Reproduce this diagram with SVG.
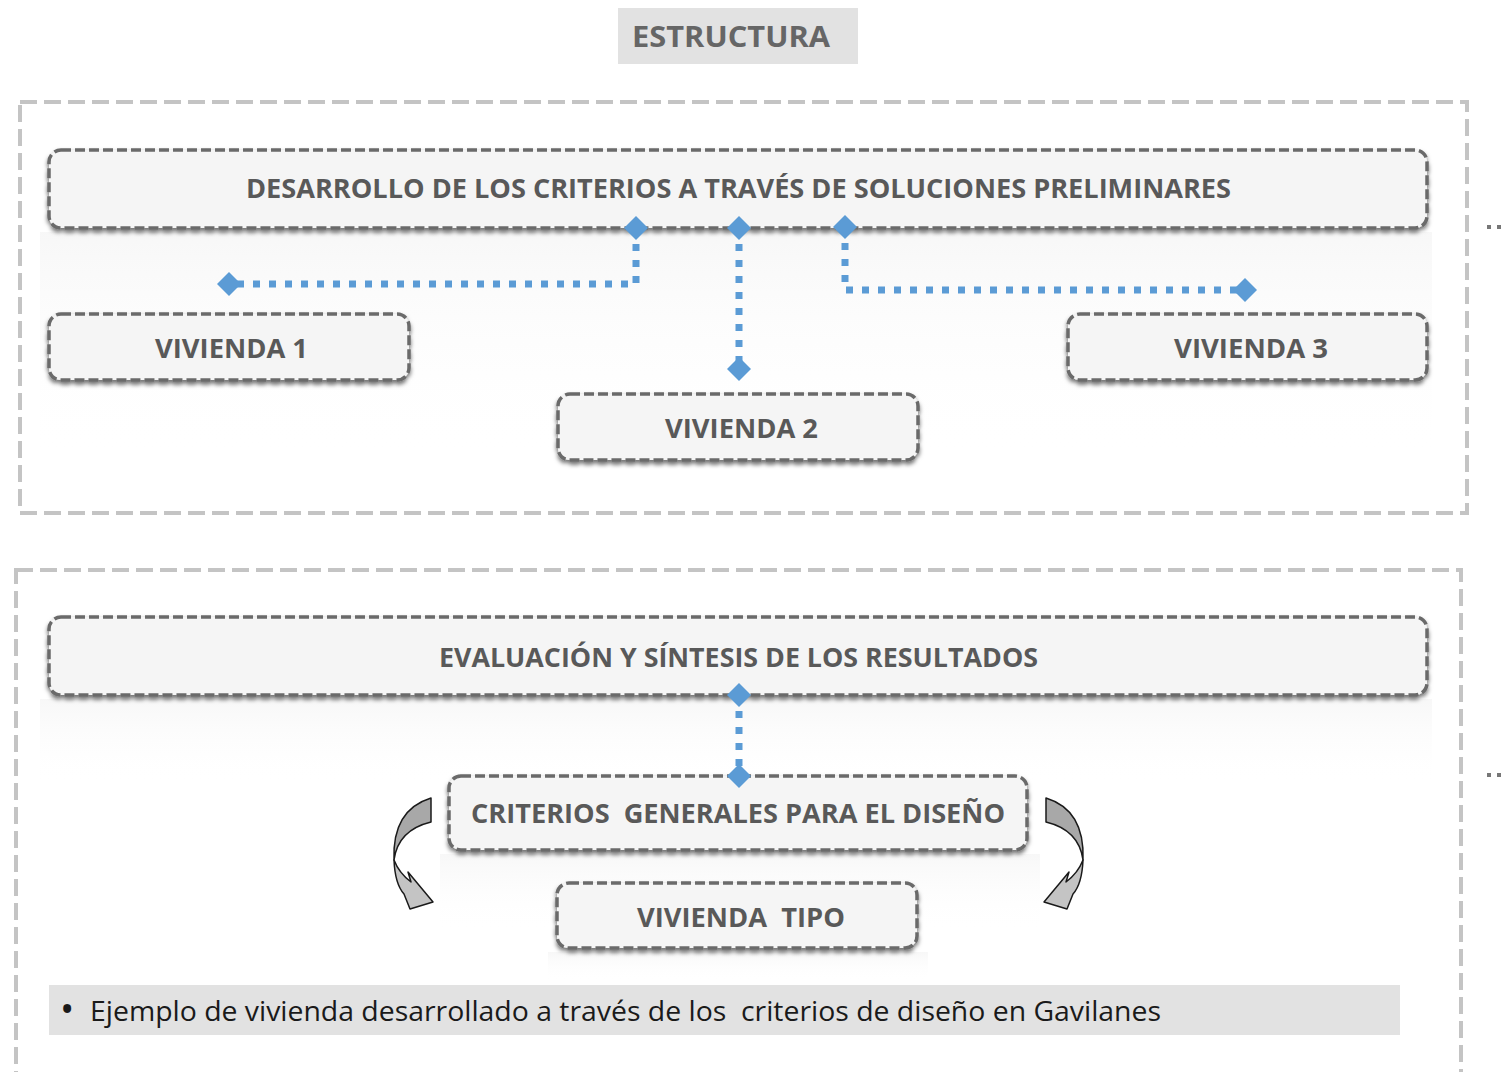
<svg xmlns="http://www.w3.org/2000/svg" width="1506" height="1072" viewBox="0 0 1506 1072">
<defs>
<style>
.frame{fill:none;stroke:#c4c4c4;stroke-width:4;stroke-dasharray:17 7}
.box{fill:#f5f5f5;stroke:#6a6a6a;stroke-width:3.5;stroke-dasharray:10 4;filter:url(#sh)}
.lbl{font-family:"Open Sans",Lato,"Liberation Sans",sans-serif;font-weight:bold;font-size:26px;fill:#595959;text-anchor:middle}
.con{fill:none;stroke:#5b9bd5;stroke-width:7;stroke-dasharray:7 9;marker-start:url(#dm);marker-end:url(#dm)}
.refl{fill:url(#rg)}
.arr1{fill:#a8a8a8;stroke:#1a1a1a;stroke-width:1.5;stroke-linejoin:round}
.arr2{fill:#c4c4c4;stroke:#1a1a1a;stroke-width:1.5;stroke-linejoin:round}
.note{font-family:"Open Sans",Lato,"Liberation Sans",sans-serif;font-size:27px;fill:#1a1a1a}
.bullet{font-family:"Open Sans",Lato,"Liberation Sans",sans-serif;font-size:38px;fill:#1a1a1a}
</style>
<filter id="sh" x="-5%" y="-20%" width="110%" height="160%">
<feDropShadow dx="0" dy="3" stdDeviation="2" flood-color="#000" flood-opacity="0.55"/>
</filter>
<linearGradient id="rg" x1="0" y1="0" x2="0" y2="1">
<stop offset="0" stop-color="#ececec" stop-opacity="0.4"/>
<stop offset="1" stop-color="#ffffff" stop-opacity="0"/>
</linearGradient>
<marker id="dm" viewBox="-12 -12 24 24" markerWidth="24" markerHeight="24" markerUnits="userSpaceOnUse" refX="0" refY="0" orient="0">
<path d="M0,-12 L12,0 L0,12 L-12,0Z" fill="#5b9bd5"/>
</marker>
</defs>
<rect width="1506" height="1072" fill="#ffffff"/>

<g id="title">
<rect x="618" y="8" width="240" height="56" fill="#e2e2e2"/>
<text x="632" y="47" font-family="'Open Sans',Lato,'Liberation Sans',sans-serif" font-weight="bold" font-size="28" fill="#666666" textLength="198" lengthAdjust="spacingAndGlyphs">ESTRUCTURA</text>
</g>

<g id="frame-top"><rect class="frame" x="20" y="102" width="1447" height="411"/></g>
<g id="frame-bottom"><rect class="frame" x="16" y="570" width="1445" height="530"/></g>

<g id="reflections">
<rect class="refl" x="40" y="232" width="1392" height="225"/>
<rect class="refl" x="40" y="699" width="1392" height="85"/>
<rect class="refl" x="440" y="854" width="600" height="78"/>
<rect class="refl" x="548" y="952" width="380" height="28"/>
</g>

<g id="n-desarrollo">
<rect class="box" x="49" y="150" width="1378" height="78" rx="12"/>
<text class="lbl" x="738.5" y="198" textLength="985" lengthAdjust="spacingAndGlyphs">DESARROLLO DE LOS CRITERIOS A TRAVÉS DE SOLUCIONES PRELIMINARES</text>
</g>
<g id="n-vivienda1">
<rect class="box" x="49" y="314" width="360" height="66" rx="12"/>
<text class="lbl" x="231.5" y="358" textLength="153" lengthAdjust="spacingAndGlyphs">VIVIENDA 1</text>
</g>
<g id="n-vivienda2">
<rect class="box" x="558" y="394" width="360" height="66" rx="12"/>
<text class="lbl" x="741.5" y="438" textLength="153" lengthAdjust="spacingAndGlyphs">VIVIENDA 2</text>
</g>
<g id="n-vivienda3">
<rect class="box" x="1068" y="314" width="359" height="66" rx="12"/>
<text class="lbl" x="1251" y="358" textLength="154" lengthAdjust="spacingAndGlyphs">VIVIENDA 3</text>
</g>
<g id="n-evaluacion">
<rect class="box" x="49" y="617" width="1378" height="78" rx="12"/>
<text class="lbl" x="738.5" y="667" textLength="599" lengthAdjust="spacingAndGlyphs">EVALUACIÓN Y SÍNTESIS DE LOS RESULTADOS</text>
</g>
<g id="n-criterios">
<rect class="box" x="449" y="776" width="578" height="74" rx="12"/>
<text class="lbl" x="738" y="823" textLength="534" lengthAdjust="spacingAndGlyphs" xml:space="preserve">CRITERIOS  GENERALES PARA EL DISEÑO</text>
</g>
<g id="n-tipo">
<rect class="box" x="557" y="883" width="360" height="65" rx="12"/>
<text class="lbl" x="741" y="927" textLength="208" lengthAdjust="spacingAndGlyphs" xml:space="preserve">VIVIENDA  TIPO</text>
</g>

<g id="connectors">
<path class="con" d="M636,228 V284 H229"/>
<path class="con" d="M739,228 V369"/>
<path class="con" d="M845,227 V290 H1245"/>
<path class="con" d="M739,695 V776"/>
</g>

<g id="curved-arrows">
<g id="arrow-left">
<path class="arr2" d="M394,860 Q395,884 404,894 L410,909 L433,902 L408,872 L411,882 Q399,873 394,860 Z"/>
<path class="arr1" d="M431,798 Q392,810 394,860 Q398,830 431,822 Z"/>
</g>
<g id="arrow-right" transform="translate(1477,0) scale(-1,1)">
<path class="arr2" d="M394,860 Q395,884 404,894 L410,909 L433,902 L408,872 L411,882 Q399,873 394,860 Z"/>
<path class="arr1" d="M431,798 Q392,810 394,860 Q398,830 431,822 Z"/>
</g>
</g>

<g id="note">
<rect x="49" y="985" width="1351" height="50" fill="#e2e2e2"/>
<text class="bullet" x="60" y="1023">•</text>
<text class="note" x="90" y="1021" textLength="1071" lengthAdjust="spacingAndGlyphs" xml:space="preserve">Ejemplo de vivienda desarrollado a través de los  criterios de diseño en Gavilanes</text>
</g>

<g id="edge-marks" fill="#777777">
<rect x="1487" y="225" width="4" height="4"/>
<rect x="1497" y="225" width="4" height="4"/>
<rect x="1487" y="773" width="4" height="4"/>
<rect x="1497" y="773" width="4" height="4"/>
</g>
</svg>
